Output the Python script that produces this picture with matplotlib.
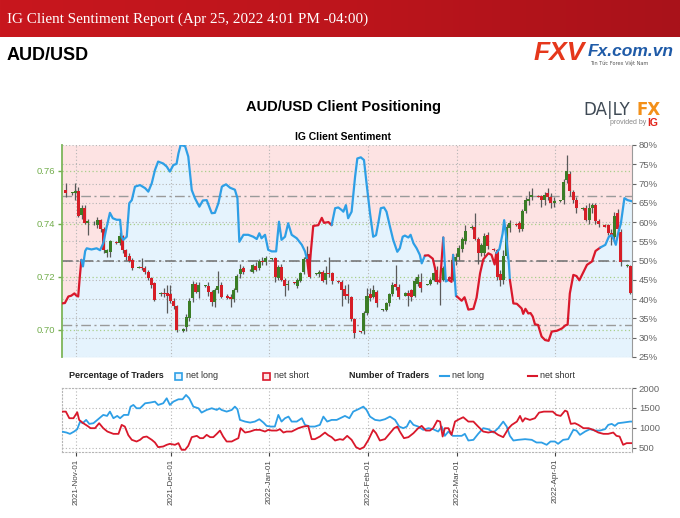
import numpy as np
import pandas as pd
import matplotlib
matplotlib.use('Agg')
import matplotlib.pyplot as plt
import matplotlib.dates as mdates
from matplotlib.colors import LinearSegmentedColormap
from matplotlib.patches import Rectangle
from matplotlib.lines import Line2D

plt.rcParams['font.family'] = ['Liberation Sans', 'DejaVu Sans']

base = pd.Timestamp('2021-11-01')

# ---- daily candles AUD/USD (Sun-Fri), one row per week ----
candle_open = [0.7530,
    0.7515, 0.7518, 0.7525, 0.7432, 0.7462, 0.7405,
    0.7405, 0.7395, 0.7415, 0.7380, 0.7292, 0.7295,
    0.7330, 0.7328, 0.7355, 0.7300, 0.7280, 0.7265,
    0.7235, 0.7236, 0.7233, 0.7220, 0.7197, 0.7177,
    0.7135, 0.7140, 0.7140, 0.7135, 0.7110, 0.7090,
    0.6995, 0.7010, 0.7045, 0.7120, 0.7175, 0.7145,
    0.7165, 0.7167, 0.7145, 0.7105, 0.7150, 0.7170,
    0.7130, 0.7125, 0.7115, 0.7150, 0.7210, 0.7232,
    0.7225, 0.7220, 0.7243, 0.7232, 0.7262, 0.7255,
    0.7268, 0.7270, 0.7198, 0.7238, 0.7190, 0.7168,
    0.7180, 0.7165, 0.7185, 0.7220, 0.7268, 0.7285,
    0.7210, 0.7210, 0.7218, 0.7190, 0.7215, 0.7215,
    0.7185, 0.7180, 0.7155, 0.7135, 0.7125, 0.7040,
    0.6995, 0.6995, 0.7065, 0.7135, 0.7125, 0.7145,
    0.7075, 0.7075, 0.7100, 0.7135, 0.7175, 0.7163,
    0.7130, 0.7140, 0.7151, 0.7130, 0.7175, 0.7180,
    0.7170, 0.7175, 0.7189, 0.7225, 0.7185, 0.7190,
    0.7200, 0.7190, 0.7262, 0.7275, 0.7305, 0.7335,
    0.7385, 0.7390, 0.7345, 0.7290, 0.7292, 0.7360,
    0.7305, 0.7300, 0.7210, 0.7190, 0.7280, 0.7385,
    0.7400, 0.7405, 0.7380, 0.7450, 0.7485, 0.7500,
    0.7505, 0.7505, 0.7490, 0.7515, 0.7500, 0.7480,
    0.7485, 0.7490, 0.7565, 0.7590, 0.7520, 0.7490,
    0.7455, 0.7460, 0.7415, 0.7460, 0.7470, 0.7410,
    0.7395, 0.7395, 0.7365, 0.7350, 0.7440, 0.7370,
    0.7240, 0.7240]
candle_high = [0.7555,
    0.7522, 0.7555, 0.7540, 0.7470, 0.7470, 0.7420,
    0.7410, 0.7428, 0.7420, 0.7390, 0.7305, 0.7340,
    0.7335, 0.7370, 0.7360, 0.7305, 0.7290, 0.7270,
    0.7240, 0.7270, 0.7240, 0.7225, 0.7200, 0.7180,
    0.7145, 0.7160, 0.7170, 0.7170, 0.7120, 0.7095,
    0.7008, 0.7060, 0.7120, 0.7185, 0.7180, 0.7180,
    0.7170, 0.7180, 0.7150, 0.7160, 0.7222, 0.7180,
    0.7135, 0.7135, 0.7160, 0.7210, 0.7250, 0.7240,
    0.7230, 0.7250, 0.7255, 0.7268, 0.7275, 0.7278,
    0.7272, 0.7275, 0.7245, 0.7250, 0.7195, 0.7190,
    0.7182, 0.7195, 0.7220, 0.7275, 0.7315, 0.7290,
    0.7216, 0.7225, 0.7225, 0.7240, 0.7277, 0.7220,
    0.7190, 0.7190, 0.7170, 0.7175, 0.7130, 0.7045,
    0.6998, 0.7070, 0.7160, 0.7160, 0.7170, 0.7150,
    0.7080, 0.7105, 0.7140, 0.7180, 0.7245, 0.7175,
    0.7142, 0.7150, 0.7155, 0.7195, 0.7210, 0.7214,
    0.7175, 0.7195, 0.7220, 0.7240, 0.7200, 0.7240,
    0.7205, 0.7270, 0.7290, 0.7320, 0.7350, 0.7395,
    0.7395, 0.7440, 0.7350, 0.7330, 0.7365, 0.7370,
    0.7310, 0.7305, 0.7225, 0.7300, 0.7400, 0.7415,
    0.7405, 0.7410, 0.7455, 0.7500, 0.7525, 0.7535,
    0.7510, 0.7510, 0.7520, 0.7535, 0.7515, 0.7500,
    0.7492, 0.7570, 0.7660, 0.7600, 0.7530, 0.7500,
    0.7465, 0.7470, 0.7480, 0.7480, 0.7480, 0.7420,
    0.7400, 0.7400, 0.7380, 0.7445, 0.7455, 0.7380,
    0.7248, 0.7245]
candle_low = [0.7500,
    0.7510, 0.7490, 0.7425, 0.7420, 0.7400, 0.7360,
    0.7398, 0.7385, 0.7370, 0.7290, 0.7277, 0.7275,
    0.7325, 0.7320, 0.7290, 0.7265, 0.7255, 0.7225,
    0.7232, 0.7225, 0.7210, 0.7190, 0.7160, 0.7110,
    0.7130, 0.7125, 0.7063, 0.7100, 0.7080, 0.6993,
    0.6993, 0.6998, 0.7035, 0.7105, 0.7140, 0.7120,
    0.7162, 0.7130, 0.7090, 0.7085, 0.7140, 0.7120,
    0.7115, 0.7085, 0.7105, 0.7145, 0.7195, 0.7210,
    0.7222, 0.7215, 0.7222, 0.7225, 0.7245, 0.7245,
    0.7265, 0.7180, 0.7190, 0.7185, 0.7130, 0.7150,
    0.7174, 0.7160, 0.7180, 0.7212, 0.7255, 0.7195,
    0.7208, 0.7200, 0.7180, 0.7175, 0.7200, 0.7175,
    0.7178, 0.7090, 0.7115, 0.7100, 0.7035, 0.6968,
    0.6988, 0.6985, 0.7055, 0.7110, 0.7120, 0.7088,
    0.7070, 0.7070, 0.7090, 0.7130, 0.7150, 0.7115,
    0.7128, 0.7090, 0.7110, 0.7125, 0.7165, 0.7145,
    0.7168, 0.7168, 0.7185, 0.7175, 0.7094, 0.7185,
    0.7188, 0.7185, 0.7245, 0.7265, 0.7295, 0.7325,
    0.7380, 0.7340, 0.7250, 0.7280, 0.7280, 0.7305,
    0.7298, 0.7190, 0.7165, 0.7175, 0.7270, 0.7370,
    0.7392, 0.7370, 0.7372, 0.7440, 0.7470, 0.7490,
    0.7500, 0.7465, 0.7470, 0.7490, 0.7460, 0.7465,
    0.7482, 0.7475, 0.7555, 0.7505, 0.7480, 0.7440,
    0.7452, 0.7410, 0.7400, 0.7440, 0.7400, 0.7390,
    0.7388, 0.7360, 0.7320, 0.7340, 0.7370, 0.7240,
    0.7238, 0.7135]
candle_close = [0.7515,
    0.7520, 0.7525, 0.7430, 0.7462, 0.7405, 0.7410,
    0.7402, 0.7415, 0.7380, 0.7300, 0.7300, 0.7335,
    0.7328, 0.7355, 0.7300, 0.7275, 0.7262, 0.7232,
    0.7237, 0.7233, 0.7220, 0.7195, 0.7170, 0.7113,
    0.7140, 0.7135, 0.7128, 0.7110, 0.7090, 0.7000,
    0.7005, 0.7050, 0.7110, 0.7175, 0.7145, 0.7170,
    0.7167, 0.7145, 0.7105, 0.7150, 0.7165, 0.7125,
    0.7120, 0.7118, 0.7150, 0.7205, 0.7230, 0.7218,
    0.7227, 0.7245, 0.7228, 0.7262, 0.7255, 0.7270,
    0.7270, 0.7200, 0.7238, 0.7190, 0.7165, 0.7172,
    0.7176, 0.7190, 0.7215, 0.7268, 0.7275, 0.7200,
    0.7214, 0.7220, 0.7185, 0.7215, 0.7210, 0.7183,
    0.7180, 0.7150, 0.7130, 0.7130, 0.7040, 0.6990,
    0.6993, 0.7065, 0.7130, 0.7120, 0.7150, 0.7100,
    0.7078, 0.7100, 0.7135, 0.7170, 0.7163, 0.7126,
    0.7140, 0.7130, 0.7126, 0.7185, 0.7200, 0.7160,
    0.7172, 0.7190, 0.7214, 0.7180, 0.7190, 0.7235,
    0.7192, 0.7264, 0.7275, 0.7310, 0.7345, 0.7375,
    0.7390, 0.7345, 0.7290, 0.7320, 0.7355, 0.7315,
    0.7300, 0.7200, 0.7190, 0.7280, 0.7390, 0.7405,
    0.7395, 0.7380, 0.7450, 0.7490, 0.7495, 0.7510,
    0.7502, 0.7490, 0.7510, 0.7500, 0.7480, 0.7485,
    0.7490, 0.7560, 0.7600, 0.7525, 0.7490, 0.7460,
    0.7462, 0.7415, 0.7460, 0.7470, 0.7410, 0.7400,
    0.7390, 0.7365, 0.7350, 0.7430, 0.7380, 0.7255,
    0.7245, 0.7140]

# ---- IG client sentiment: % of traders net long (day offset from 2021-11-01) ----
sent_day = [-4.5, -3.5, -2.4, -1.5, -0.5, 0.0, 0.7, 1.2, 1.7,
    2.2, 2.9, 3.4, 4.9, 6.5, 7.6, 8.6, 9.7, 10.7, 11.6, 12.8, 13.9, 14.4, 14.9, 16.0,
    16.8, 17.6, 18.6, 20.2, 21.8, 22.8, 23.9, 24.9, 25.9, 27.5, 28.6, 29.6, 30.7, 31.7,
    32.3, 33.0, 34.4, 35.4, 36.5, 37.5, 38.9, 40.0, 41.2, 42.8, 43.8, 44.9, 46.0, 47.3,
    48.6, 50.1, 50.9, 51.5, 52.8, 54.3, 55.9, 57.0, 57.8, 58.5, 59.6, 60.6, 61.7, 63.1,
    64.0, 64.8, 65.9, 66.9, 68.0, 69.6, 71.2, 72.2, 72.9,
    73.4, 74.8, 76.4, 77.5, 78.2, 79.6, 80.6,
    81.7, 82.7, 83.8, 84.3, 85.1, 85.8, 86.9, 88.0, 88.7, 89.8, 90.8, 91.6, 92.7, 93.7,
    94.6, 95.3, 96.1, 97.1, 97.9, 99.0, 100.0, 101.3, 102.1, 103.0, 103.7, 104.8, 105.5,
    106.4, 107.4, 108.4, 109.0,
    110.0, 111.1, 112.5, 113.2, 113.7, 114.8,
    115.8, 116.6,
    117.5, 118.4,
    118.9, 119.8,
    120.1, 121.6, 122.5, 123.7, 125.3, 126.3, 127.4, 128.4, 130.0, 131.0, 132.0,
    132.5, 133.5, 134.5, 135.0, 135.8, 136.5,
    136.8, 137.9, 139.0, 140.5, 141.0, 141.7, 142.6, 143.3, 144.0, 144.7, 145.7, 146.8,
    147.9, 149.0, 150.0, 151.6, 153.2, 154.3, 155.0, 155.7, 156.8, 157.8, 158.7, 159.9,
    161.1, 162.7, 163.8,
    165.3, 166.9, 168.0, 168.9, 169.6, 170.2, 170.9, 171.8, 172.9, 173.9, 175.3]
sent_pct = [38.9, 39.0, 40.7, 40.9, 41.5, 41.0, 40.7, 45.8, 50.2,
    48.5, 52.5, 53.2, 52.9, 53.2, 52.7, 54.5, 58.8, 62.4, 61.0, 60.6, 60.6, 56.2, 55.4, 56.2,
    64.9, 65.7, 69.2, 69.6, 68.8, 67.9, 70.1, 73.5, 75.7, 75.2, 74.4, 73.1, 74.8, 75.1,
    77.8, 80.0, 79.7, 77.0, 68.3, 66.2, 64.0, 65.6, 65.7, 62.3, 62.4, 64.9, 69.2, 69.8,
    68.9, 68.4, 66.2, 54.9, 56.7, 56.7, 56.2, 55.6, 57.1, 55.8, 56.7, 52.8, 52.4, 52.4,
    60.1, 55.4, 56.2, 59.7, 56.7, 55.8, 54.1, 52.4, 50.2,
    46.5, 59.0, 59.2, 61.1, 59.8, 60.0, 59.2,
    63.6, 63.8, 63.1, 62.7, 64.4, 61.0, 62.7, 71.8, 76.5, 76.8, 76.1, 70.1, 62.3, 56.2,
    56.6, 59.7, 63.6, 63.8, 62.7, 58.8, 55.4, 52.3, 53.2, 56.2, 56.5, 56.0, 56.7,
    54.5, 53.2, 51.5, 49.3,
    51.3, 51.4, 50.5, 48.0, 45.0, 44.5,
    56.0, 44.6,
    45.0, 44.5,
    51.5, 40.8,
    40.7, 39.6, 40.5, 37.3, 37.5, 40.4, 46.7, 50.3, 51.9, 51.5, 49.0,
    52.0, 53.0, 57.0, 60.5, 55.0, 49.0,
    45.0, 38.9, 38.8, 37.6, 36.2, 37.5, 36.3, 36.4, 35.5, 33.5, 33.3, 30.3,
    29.4, 29.2, 31.6, 31.8, 32.4, 33.2, 33.4, 41.5, 46.3, 46.0, 44.9, 46.9,
    48.9, 49.8, 52.5,
    53.4, 54.1, 56.2, 56.6, 55.4, 54.1, 57.0, 59.7, 66.2, 65.7, 65.4]
# which side the IG line is drawn for (L = blue, S = red)
sent_side = (['S'] * 9 + ['L'] * 66 + ['S'] * 7 + ['L'] * 32 + ['S'] * 6 + ['L'] * 2
             + ['S'] * 2 + ['L'] * 2 + ['S'] * 11 + ['L'] * 6 + ['S'] * 27 + ['L'] * 11)

# ---- number of traders ----
long_day = [-4.5, -3.0, -1.9, -0.6, 0.4, 1.3, 2.1, 3.2, 4.2, 5.5, 7.0, 8.6, 9.8, 10.7,
    11.8, 13.0, 13.9, 15.1, 16.5, 17.2, 18.1, 19.1, 20.2, 21.8, 23.3, 24.9, 25.9, 27.5,
    28.6, 29.6, 30.7, 32.3, 33.6, 34.7, 35.7, 37.0, 38.6, 39.6, 41.2, 42.8, 44.4, 45.2,
    45.9, 47.5, 49.1, 50.1, 50.9, 51.7, 53.3, 54.9, 56.4, 57.8, 59.1, 60.1, 61.4, 62.7,
    63.8, 64.8, 65.9, 67.0, 68.0, 69.6, 71.2, 72.2, 73.8, 75.3, 76.9, 78.0, 79.2, 80.6,
    82.2, 84.8, 86.2, 87.4, 89.0, 90.6, 91.6, 92.7, 94.3, 95.8, 97.4, 99.0, 100.6, 101.9,
    103.2, 104.3, 105.3, 106.4, 107.9, 109.5, 111.1, 112.6, 114.2, 115.3, 116.3, 117.4,
    118.8, 120.0, 121.6, 122.6, 123.7, 125.3, 126.8, 128.4, 130.0, 131.6, 133.1, 134.7,
    135.8, 136.8, 137.9, 139.4, 141.6, 143.7, 145.2, 146.8, 148.4, 149.6, 151.0, 152.0,
    153.6, 155.2, 156.8, 157.8, 158.9, 160.5, 162.0, 163.6, 165.2, 166.8, 167.8, 168.9,
    169.9, 170.9, 172.5, 174.7, 175.3]
long_count = [908, 883, 850, 908, 967, 1158, 1117, 1200, 1100, 1117, 1217, 1325, 1300, 1408,
    1242, 1300, 1242, 1325, 1325, 1533, 1575, 1492, 1492, 1617, 1633, 1658, 1575, 1617,
    1742, 1575, 1658, 1717, 1717, 1825, 1742, 1533, 1492, 1383, 1450, 1492, 1450, 1492,
    1450, 1408, 1450, 1533, 1467, 1200, 1158, 1133, 1158, 1217, 1133, 1050, 1033, 1033,
    1325, 1158, 1242, 1283, 1158, 1158, 1242, 1075, 1033, 1033, 1075, 1283, 1158, 1200,
    1200, 1300, 1242, 1408, 1467, 1533, 1450, 1283, 1200, 1183, 1217, 1283, 1200, 1033,
    992, 1033, 1183, 1075, 1033, 950, 992, 967, 908, 1033, 800, 908,
    800, 800, 800, 850, 683, 700, 850, 992, 967, 883, 992, 1158,
    1033, 800, 683, 700, 717, 700, 633, 633, 575, 658, 658, 600,
    700, 717, 950, 933, 825, 908, 967, 933, 933, 967, 1075, 1100,
    1050, 1117, 1133, 1158, 1158]
short_day = [-4.5, -3.2, -2.1, -0.8, 0.4, 1.0, 2.3, 3.6, 4.6, 6.0, 7.3, 8.6, 9.9, 11.8,
    13.4, 14.4, 15.4, 16.5, 17.6, 19.1, 20.2, 21.2, 22.3, 23.9, 24.9, 25.9, 27.5, 28.6,
    29.6, 31.2, 32.3, 33.3, 34.4, 35.4, 36.5, 38.1, 39.1, 40.1, 41.2, 42.3, 43.3, 44.4,
    45.4, 46.4, 47.5, 49.1, 50.1, 51.2, 51.9, 53.3, 54.9, 56.4, 58.0, 59.6, 60.6, 61.7,
    63.3, 64.3, 65.4, 66.4, 68.0, 70.1, 71.7, 73.2, 74.3, 75.3, 76.9, 78.5, 79.5, 80.6,
    81.7, 83.2, 84.2, 85.5, 86.9, 88.3, 89.5, 90.8, 92.2, 93.7, 94.6, 95.8, 97.4, 99.0,
    100.3, 101.3, 102.1, 103.4, 104.8, 106.4, 107.9, 109.0, 110.3, 111.6, 112.6, 113.9,
    114.8, 115.6, 116.3, 117.4, 118.4, 119.5, 120.8, 122.1, 123.7, 125.3, 126.8, 128.4,
    130.0, 131.6, 133.1, 134.7, 136.4, 137.4, 139.0, 140.0, 140.8, 141.6, 143.1, 144.7,
    146.0, 147.5, 148.9, 150.3, 151.5, 152.8, 154.2, 154.9, 156.0, 157.3, 158.4, 160.0,
    161.6, 163.1, 164.7, 166.3, 167.8, 169.4, 170.4, 171.4, 172.5, 173.6, 175.3]
short_count = [1408, 1408, 1242, 1242, 1392, 1200, 1117, 1050, 992, 992, 1117, 992, 908, 850,
    850, 1075, 1033, 817, 700, 658, 700, 767, 783, 700, 633, 517, 533, 575,
    600, 575, 617, 450, 450, 550, 767, 800, 742, 742, 825, 767, 767, 850,
    933, 783, 658, 658, 700, 742, 992, 883, 908, 950, 950, 908, 950, 933,
    933, 967, 883, 908, 908, 992, 1033, 1050, 717, 717, 783, 883, 817, 767,
    683, 717, 700, 800, 700, 517, 467, 517, 700, 950, 867, 683, 717, 867,
    992, 1033, 908, 742, 767, 867, 992, 1050, 933, 933, 992, 1183,
    1158, 783, 992, 992, 825, 1158, 1217, 1267, 1158, 1158, 1033, 908,
    883, 908, 825, 767, 992, 1075, 1158, 1300, 1158, 1242, 1200, 1242,
    1383, 1408, 1408, 1408, 1325, 1300, 1433, 1408, 1100, 1117, 1075, 992,
    992, 950, 883, 850, 850, 883, 800, 783, 575, 617, 617]

month_ticks = ['2021-11-01', '2021-12-01', '2022-01-01', '2022-02-01', '2022-03-01', '2022-04-01']

# ---------------------------------------------------------------------------
W, H = 680.0, 518.0
blue = '#2e9fe6'
red = '#d9182b'
green_txt = '#72ad4c'


def box(x0, y0, x1, y1):
    return [x0 / W, 1 - y1 / H, (x1 - x0) / W, (y1 - y0) / H]


fig = plt.figure(figsize=(6.8, 5.18), dpi=100)

# header banner
hdr = fig.add_axes(box(0, 0, 680, 37))
cmap = LinearSegmentedColormap.from_list('hdr', ['#c8171e', '#bd151c', '#a9121a'])
hdr.imshow(np.linspace(0, 1, 256)[None, :], aspect='auto', cmap=cmap, extent=[0, 1, 0, 1])
hdr.axis('off')
fig.text(7 / W, 1 - 19 / H, 'IG Client Sentiment Report (Apr 25, 2022 4:01 PM -04:00)',
         color='white', fontsize=10.9, family=['Liberation Serif', 'DejaVu Serif'], va='center')
fig.text(7 / W, 1 - 55 / H, 'AUD/USD', fontsize=13, fontweight='bold', va='center')

# FXV logo
fig.text(534 / W, 1 - 53 / H, 'FXV', color='#e5371b', fontsize=19, fontweight='bold',
         style='italic', va='center')
fig.text(588 / W, 1 - 51 / H, 'Fx.com.vn', color='#1f5ba8', fontsize=12.5, fontweight='bold',
         style='italic', va='center')
fig.text(590 / W, 1 - 64 / H, 'Tin Tức Forex Việt Nam', color='#555555', fontsize=3.6, va='center',
         family='DejaVu Sans')

# titles
fig.text(343 / W, 1 - 107 / H, 'AUD/USD Client Positioning', ha='center', va='center',
         fontsize=10.5, fontweight='bold')
fig.text(343 / W, 1 - 137 / H, 'IG Client Sentiment', ha='center', va='center',
         fontsize=7.5, fontweight='bold')

# DailyFX logo
fig.text(583 / W, 1 - 110 / H, 'DA|LY', color='#3f4a55', fontsize=12, va='center',
         family='DejaVu Sans')
fig.text(637 / W, 1 - 110 / H, 'FX', color='#f39019', fontsize=12, fontweight='bold', va='center',
         family='DejaVu Sans')
fig.text(610 / W, 1 - 123 / H, 'provided by', color='#888888', fontsize=5, va='center')
fig.text(647 / W, 1 - 123 / H, 'IG', color='#e2231a', fontsize=7.5, fontweight='bold', va='center')

# ---------------------------------------------------------------------------
x_lo = base - pd.Timedelta(days=4.41)
x_hi = base + pd.Timedelta(days=175.3)
months = pd.to_datetime(month_ticks)

sent_dates = base + pd.to_timedelta(sent_day, unit='D')
candle_dates = pd.DatetimeIndex([d for d in pd.date_range('2021-10-29', '2022-04-25')
                                 if d.dayofweek != 5]) - pd.Timedelta(hours=6)

# percentage axis (fills, grid)
ax = fig.add_axes(box(62, 145, 632, 357))
ax.set_xlim(x_lo, x_hi)
ax.set_ylim(25, 80)
ax.fill_between(sent_dates, sent_pct, 80, color='#fde3e3', lw=0, zorder=0)
ax.fill_between(sent_dates, 25, sent_pct, color='#e5f3fd', lw=0, zorder=0)
for v in range(25, 81, 5):
    ax.axhline(v, color='#b5b5b5', ls=(0, (1, 2)), lw=0.8, zorder=1)
for m in months:
    ax.axvline(m, color='#b5b5b5', ls=(0, (1, 2)), lw=0.8, zorder=1)
ax.axhline(50, color='#6e6e6e', ls=(0, (7, 2.5, 1.5, 2.5)), lw=1.1, zorder=2)
for v in (100 / 3, 200 / 3):
    ax.axhline(v, color='#9a9a9a', ls=(0, (7, 2.5, 1.5, 2.5)), lw=1.0, zorder=2)
ax.set_xticks([])

# price axis (candles)
axc = ax.twinx()
# sentiment line axis, drawn on top
axl = ax.twinx()

ax.yaxis.tick_right()
ax.set_yticks(range(25, 81, 5))
ax.set_yticklabels([f'{v}%' for v in range(25, 81, 5)])
ax.tick_params(axis='y', colors='#666666', labelsize=6.8, length=3, width=0.8, pad=2)
for s in ('top', 'bottom', 'left'):
    ax.spines[s].set_visible(False)
ax.spines['right'].set_color('#9a9a9a')

axc.set_ylim(0.6898, 0.7698)
axc.yaxis.tick_left()
price_ticks = [0.70, 0.72, 0.74, 0.76]
axc.set_yticks(price_ticks)
axc.set_yticklabels([f'{v:.2f}' for v in price_ticks])
axc.tick_params(axis='y', colors=green_txt, labelsize=6.8, length=3, width=1, pad=2)
for v in price_ticks:
    axc.axhline(v, color='#a9cf8a', ls=(0, (1, 2)), lw=0.9, zorder=1)
for s in ('top', 'bottom', 'right'):
    axc.spines[s].set_visible(False)
axc.spines['left'].set_color('#7db55a')
axc.spines['left'].set_linewidth(1.3)

body_lo = np.minimum(candle_open, candle_close)
body_h = np.maximum(np.abs(np.array(candle_close) - np.array(candle_open)), 0.0003)
body_col = ['#3b7d26' if c >= o else '#d61e27' for o, c in zip(candle_open, candle_close)]
axc.vlines(candle_dates, candle_low, candle_high, color='#5a5a5a', lw=0.9, zorder=3)
axc.bar(candle_dates, body_h, bottom=body_lo, width=0.95, color=body_col, lw=0, zorder=4)
axc.set_xlim(x_lo, x_hi)

axl.set_ylim(25, 80)
axl.set_xlim(x_lo, x_hi)
axl.axis('off')
side_color = {'L': blue, 'S': red}
n = len(sent_day)
i = 1
while i < n:
    j = i
    while j + 1 < n and sent_side[j + 1] == sent_side[i]:
        j += 1
    axl.plot(sent_dates[i - 1:j + 1], sent_pct[i - 1:j + 1], color=side_color[sent_side[i]],
             lw=1.6, solid_joinstyle='round', solid_capstyle='round')
    i = j + 1

# ---------------------------------------------------------------------------
# legend row
ly = 1 - 376 / H
fig.text(69 / W, ly, 'Percentage of Traders', fontsize=6.5, fontweight='bold', va='center',
         color='#222222')
fig.patches.append(Rectangle((175 / W, ly - 3.5 / H), 7 / W, 7 / H, transform=fig.transFigure,
                             facecolor='#e5f3fd', edgecolor=blue, lw=1.2))
fig.text(186 / W, ly, 'net long', fontsize=6.5, va='center', color='#333333')
fig.patches.append(Rectangle((263 / W, ly - 3.5 / H), 7 / W, 7 / H, transform=fig.transFigure,
                             facecolor='#fde3e3', edgecolor=red, lw=1.2))
fig.text(274 / W, ly, 'net short', fontsize=6.5, va='center', color='#333333')
fig.text(349 / W, ly, 'Number of Traders', fontsize=6.5, fontweight='bold', va='center',
         color='#222222')
fig.lines.append(Line2D([440 / W, 449 / W], [ly, ly], transform=fig.transFigure, color=blue, lw=1.5))
fig.text(452 / W, ly, 'net long', fontsize=6.5, va='center', color='#333333')
fig.lines.append(Line2D([528 / W, 537 / W], [ly, ly], transform=fig.transFigure, color=red, lw=1.5))
fig.text(540 / W, ly, 'net short', fontsize=6.5, va='center', color='#333333')

# number of traders axis
axb = fig.add_axes(box(62, 388, 632, 452))
axb.set_xlim(x_lo, x_hi)
axb.set_ylim(395, 2000)
for v in (500, 1000, 1500, 2000):
    axb.axhline(v, color='#b5b5b5', ls=(0, (1, 2)), lw=0.8, zorder=1)
for m in months:
    axb.axvline(m, color='#b5b5b5', ls=(0, (1, 2)), lw=0.8, zorder=1)
axb.plot(base + pd.to_timedelta(long_day, unit='D'), long_count, color=blue, lw=1.3, zorder=3)
axb.plot(base + pd.to_timedelta(short_day, unit='D'), short_count, color=red, lw=1.3, zorder=3)
axb.yaxis.tick_right()
axb.set_yticks([500, 1000, 1500, 2000])
axb.tick_params(axis='y', colors='#666666', labelsize=6.8, length=3, width=0.8, pad=2)
axb.set_xticks(months)
axb.xaxis.set_major_formatter(mdates.DateFormatter('%Y-%b-%d'))
axb.tick_params(axis='x', colors='#444444', labelsize=5.8, length=3, width=0.8, pad=2,
                labelrotation=90)
for s in ('top', 'left', 'bottom'):
    axb.spines[s].set_color('#b5b5b5')
    axb.spines[s].set_linestyle((0, (1, 2)))
    axb.spines[s].set_linewidth(0.8)
axb.spines['right'].set_color('#9a9a9a')

fig.savefig('out.png', dpi=100)
